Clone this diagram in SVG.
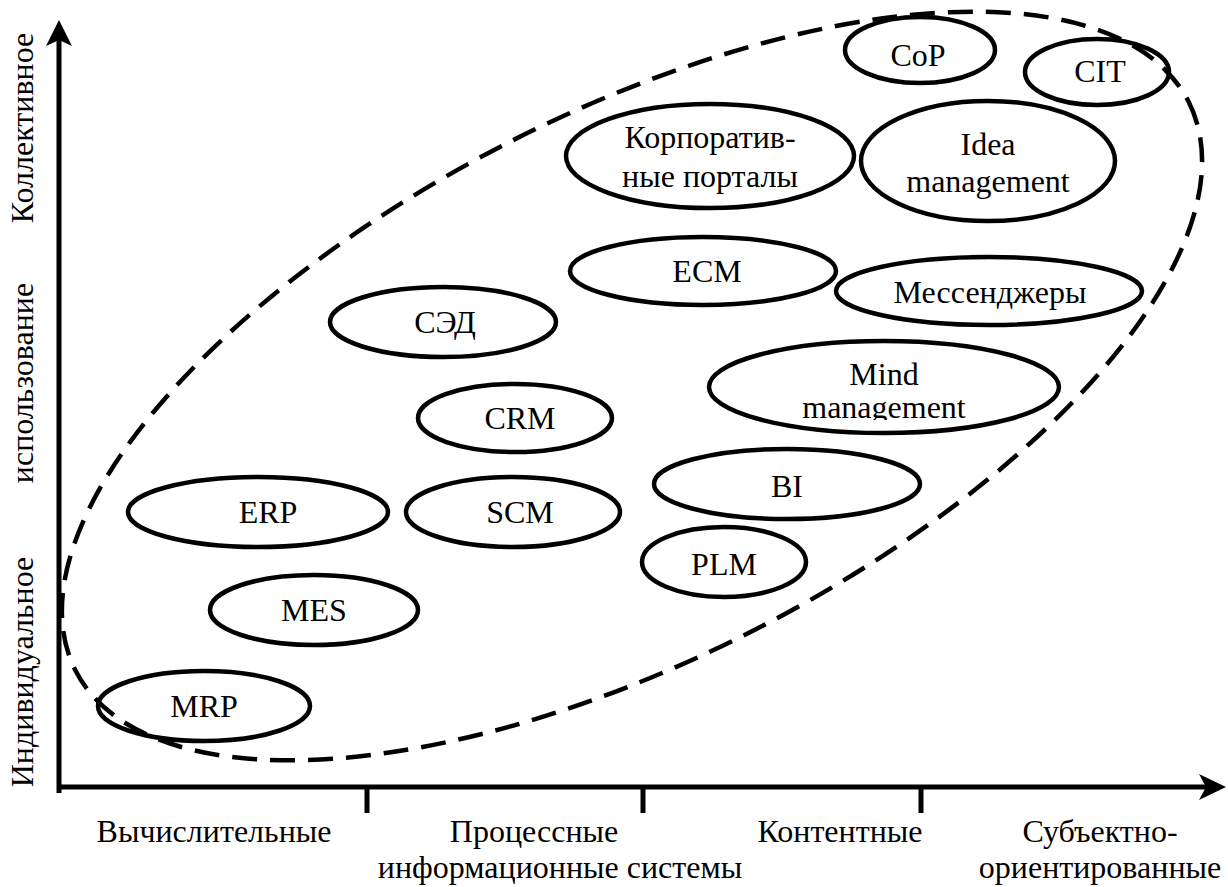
<svg xmlns="http://www.w3.org/2000/svg" width="1228" height="887" viewBox="0 0 1228 887">
<style>
.n{fill:none;stroke:#000;stroke-width:4.5}
.t{font-family:'Liberation Serif','Times New Roman',Times,Tinos,'Noto Serif','DejaVu Serif',FreeSerif,'Nimbus Roman',serif;font-size:32px;fill:#000;text-anchor:middle}
.ax{stroke:#000;stroke-width:5;fill:none}
</style>
<defs>
<clipPath id="mclip"><rect x="700" y="330" width="370" height="90"/></clipPath>
</defs>
<rect width="1228" height="887" fill="#fff"/>
<g id="axes">
<line class="ax" x1="59" y1="38" x2="59" y2="793"/>
<path d="M59,20 L72,46 L59,40 L46,46 Z" fill="#000"/>
<line class="ax" x1="57" y1="787" x2="1208" y2="787"/>
<path d="M1226,787 L1199,774 L1206,787 L1199,800 Z" fill="#000"/>
<line class="ax" x1="367" y1="787" x2="367" y2="813"/>
<line class="ax" x1="643" y1="787" x2="643" y2="813"/>
<line class="ax" x1="921" y1="787" x2="921" y2="813"/>
</g>
<g id="axis-labels">
<text class="t" transform="translate(33,128) rotate(-90)">Коллективное</text>
<text class="t" transform="translate(33,383) rotate(-90)">использование</text>
<text class="t" transform="translate(33,672) rotate(-90)">Индивидуальное</text>
<text class="t" x="214" y="842">Вычислительные</text>
<text class="t" x="534" y="842">Процессные</text>
<text class="t" x="560" y="878">информационные системы</text>
<text class="t" x="840" y="842">Контентные</text>
<text class="t" x="1100" y="842">Субъектно-</text>
<text class="t" x="1100" y="878">ориентированные</text>
</g>
<g id="boundary">
<ellipse cx="632" cy="386" rx="625" ry="273" transform="rotate(-27.1 632 386)" fill="none" stroke="#000" stroke-width="4.5" stroke-dasharray="25 13"/>
</g>
<g id="MRP"><ellipse class="n" cx="204" cy="706" rx="106" ry="35"/><text class="t" x="204" y="717">MRP</text></g>
<g id="MES"><ellipse class="n" cx="314" cy="610" rx="104" ry="35"/><text class="t" x="314" y="621">MES</text></g>
<g id="ERP"><ellipse class="n" cx="258" cy="512" rx="130" ry="35"/><text class="t" x="268" y="523">ERP</text></g>
<g id="SCM"><ellipse class="n" cx="513" cy="512" rx="107" ry="35"/><text class="t" x="520" y="523">SCM</text></g>
<g id="CRM"><ellipse class="n" cx="515" cy="418" rx="97" ry="34"/><text class="t" x="520" y="429">CRM</text></g>
<g id="SED"><ellipse class="n" cx="443" cy="322" rx="113" ry="35"/><text class="t" x="445" y="333">СЭД</text></g>
<g id="ECM"><ellipse class="n" cx="703" cy="271" rx="133" ry="34"/><text class="t" x="707" y="282">ECM</text></g>
<g id="Messengers"><ellipse class="n" cx="989" cy="291" rx="153" ry="34"/><text class="t" x="990" y="303">Мессенджеры</text></g>
<g id="Mind"><ellipse class="n" cx="884" cy="387" rx="175" ry="46"/><text class="t" x="884" y="385">Mind</text><text class="t" x="884" y="418" clip-path="url(#mclip)">management</text></g>
<g id="BI"><ellipse class="n" cx="787" cy="484" rx="133" ry="35"/><text class="t" x="787" y="497">BI</text></g>
<g id="PLM"><ellipse class="n" cx="724" cy="562" rx="82" ry="35"/><text class="t" x="724" y="575">PLM</text></g>
<g id="Portals"><ellipse class="n" cx="710" cy="156" rx="144" ry="52"/><text class="t" x="710" y="148">Корпоратив-</text><text class="t" x="710" y="187">ные порталы</text></g>
<g id="Idea"><ellipse class="n" cx="988" cy="161" rx="127" ry="60"/><text class="t" x="988" y="155">Idea</text><text class="t" x="988" y="192">management</text></g>
<g id="CoP"><ellipse class="n" cx="920" cy="50" rx="75" ry="33"/><text class="t" x="918" y="66">CoP</text></g>
<g id="CIT"><ellipse class="n" cx="1097" cy="72" rx="72" ry="33"/><text class="t" x="1100" y="82">CIT</text></g>
</svg>
